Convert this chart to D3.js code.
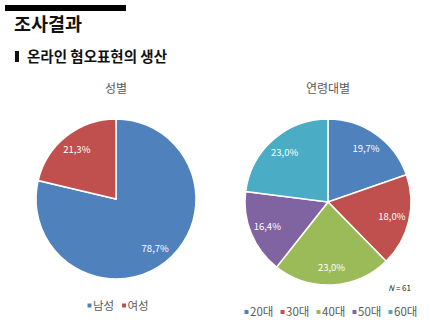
<!DOCTYPE html>
<html>
<head>
<meta charset="utf-8">
<script src="https://cdn.jsdelivr.net/npm/d3@7"></script>
<style>
  html, body { margin: 0; padding: 0; background: #fff; }
  svg { display: block; }
  text { font-family: "Noto Sans CJK KR", "Noto Sans", sans-serif; }
</style>
</head>
<body>
<svg id="chart" width="430" height="323"></svg>
<script>
// Survey results: respondents by gender and by age group (N = 61)
const genderCategories = ["남성", "여성"];
const genderValues = [78.7, 21.3];
const ageCategories = ["20대", "30대", "40대", "50대", "60대"];
const ageValues = [19.7, 18.0, 23.0, 16.4, 23.0];
const sampleSize = 61;

const genderColors = ["#4F81BD", "#C0504D"];
const ageColors = ["#4F81BD", "#C0504D", "#9BBB59", "#8064A2", "#4BACC6"];

const svg = d3.select("#chart");

// Page header
svg.append("rect").attr("x", 5).attr("y", 5).attr("width", 121).attr("height", 6).attr("fill", "#000");
svg.append("text").attr("x", 14).attr("y", 31)
  .attr("font-size", 18.5).attr("font-weight", "bold").attr("fill", "#111").text("조사결과");
svg.append("rect").attr("x", 15).attr("y", 51).attr("width", 4).attr("height", 11).attr("fill", "#111");
svg.append("text").attr("x", 27).attr("y", 61.5)
  .attr("font-size", 14.5).attr("font-weight", "bold").attr("fill", "#111").text("온라인 혐오표현의 생산");

const fmt = v => d3.format(".1f")(v).replace(".", ",") + "%";

function drawPie(cfg) {
  const g = svg.append("g").attr("transform", `translate(${cfg.cx},${cfg.cy})`);
  const pie = d3.pie().sort(null).value(d => d.value);
  const arcs = pie(cfg.categories.map((c, i) => ({ name: c, value: cfg.values[i] })));
  const arc = d3.arc().innerRadius(0).outerRadius(cfg.r);
  const labelArc = d3.arc().innerRadius(cfg.r * 0.79).outerRadius(cfg.r * 0.79);
  const color = d3.scaleOrdinal().domain(cfg.categories).range(cfg.colors);

  g.selectAll("path").data(arcs).join("path")
    .attr("d", arc)
    .attr("fill", d => color(d.data.name))
    .attr("stroke", "#fff").attr("stroke-width", 1.5);

  g.selectAll("text.val").data(arcs).join("text")
    .attr("class", "val")
    .attr("transform", d => `translate(${labelArc.centroid(d)})`)
    .attr("text-anchor", "middle").attr("dy", "0.35em")
    .attr("font-family", "'Liberation Sans', Arial, sans-serif")
    .attr("font-size", 9.5).attr("fill", "#fff")
    .text(d => fmt(d.data.value));

  svg.append("text").attr("x", cfg.cx).attr("y", 93)
    .attr("text-anchor", "middle").attr("font-size", 12).attr("fill", "#595959")
    .text(cfg.title);

  // Legend
  const lg = svg.append("g").attr("transform", `translate(${cfg.legendX},${cfg.legendY})`);
  const items = lg.selectAll("g").data(cfg.categories).join("g")
    .attr("transform", (d, i) => `translate(${i * cfg.legendStep},0)`);
  items.append("rect").attr("x", 0).attr("y", -2).attr("width", 4).attr("height", 4)
    .attr("fill", d => color(d));
  items.append("text").attr("x", 5.5).attr("dy", "0.35em")
    .attr("font-size", 11.5).attr("fill", "#595959").text(d => d);
}

drawPie({
  cx: 116, cy: 199, r: 80,
  title: "성별",
  categories: genderCategories, values: genderValues, colors: genderColors,
  legendX: 87.5, legendY: 305.5, legendStep: 34.5
});

drawPie({
  cx: 328, cy: 202, r: 83,
  title: "연령대별",
  categories: ageCategories, values: ageValues, colors: ageColors,
  legendX: 244.5, legendY: 312, legendStep: 36
});

const nText = svg.append("text").attr("x", 411).attr("y", 291)
  .attr("text-anchor", "end").attr("font-family", "'Liberation Sans', Arial, sans-serif")
  .attr("font-size", 8).attr("fill", "#222");
nText.append("tspan").attr("font-style", "italic").text("N");
nText.append("tspan").text(" = " + sampleSize);
</script>
</body>
</html>
